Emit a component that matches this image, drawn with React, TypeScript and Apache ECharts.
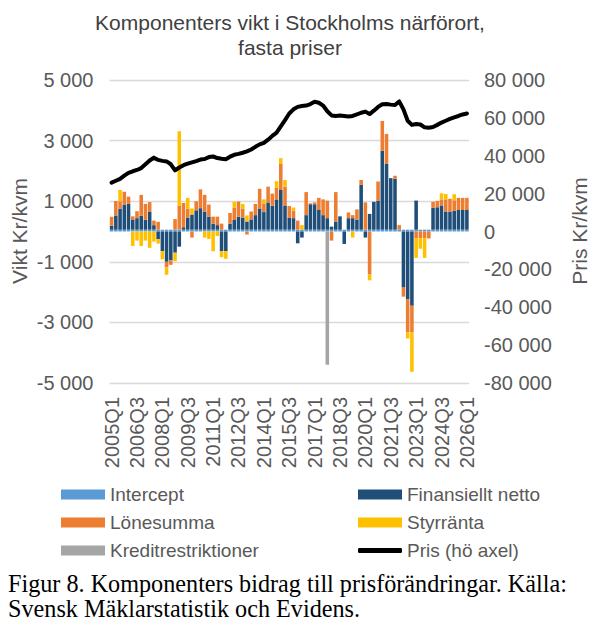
import React, { useEffect, useRef } from "react";
import * as echarts from "echarts";

// Quarter labels 2005Q1 .. 2026Q1
const categories: string[] = (() => {
  const out: string[] = [];
  for (let y = 2005; y <= 2026; y++) {
    for (let q = 1; q <= 4; q++) {
      if (y === 2026 && q > 1) break;
      out.push(`${y}Q${q}`);
    }
  }
  return out;
})();

const intercept = [
  60, 60, 60, 60, 60, 60, 60, 60, 60, 60, 60, 60, 60, 60, 60, 60, 60,
  60, 60, 60, 60, 60, 60, 60, 60, 60, 60, 60, 60, 60, 60, 60, 60, 60,
  60, 60, 60, 60, 60, 60, 60, 60, 60, 60, 60, 60, 60, 60, 60, 60, 60,
  60, 60, 60, 60, 60, 60, 60, 60, 60, 60, 60, 60, 60, 60, 60, 60, 60,
  60, 60, 60, 60, 60, 60, 60, 60, 60, 60, 60, 60, 60, 60, 60, 60, 60,
];

const finansiellt = [
  130, 470, 690, 830, 850, 320, 380, 460, 330, 600, 150, -250, -650, -1000, -950, -700,
  -500, 80, 400, 500, 640, 710, 600, 430, 200, 150, -650, -650, 200, 320, 430, 400,
  270, 340, 480, 700, 580, 900, 790, 980, 1310, 800, 400, 380, -390, -200, 480, 840,
  840, 650, 480, 380, 100, 270, 440, -410, 380, 380, 330, 1480, -200, 520, 920, 960,
  2610, 2170, 1700, 1680, 0, -1850, -2230, -2450, 960, 0, 0, 0, 720, 740, 800, 600,
  600, 620, 650, 650, 650,
];

const lonesumma = [
  300, 480, 250, 420, 240, 120, 230, 690, 520, 310, 150, 260, 0, -180, -150, 350,
  800, 800, 300, -200, 300, 620, 550, 400, 230, 280, 200, 0, 350, 400, 500, 300,
  -100, 260, 370, 650, 270, 520, 400, 400, 860, 620, 380, 250, 300, 0, 760, 30,
  60, 400, 520, 580, -300, 970, 0, 0, 190, 100, 340, 160, 900, -1420, 0, 630,
  980, 990, 0, 100, 150, -300, -1100, -880, -220, -220, -220, -230, 200, 210, 200, 400,
  420, 350, 400, 400, 400,
];

const styrranta = [
  0, 0, 370, 0, 0, -480, -300, -480, -300, -540, -330, -150, -270, -250, 0, -280,
  2450, 0, 350, 200, 0, 0, -200, -250, -650, -150, -200, -250, 0, 200, 0, 150,
  200, 0, 0, 0, 150, 0, 0, 220, 190, 220, 0, 100, 0, 150, 0, 0,
  0, 0, 0, 0, 0, 0, 0, 0, 0, -200, 0, 0, 0, -190, 0, 0,
  0, 0, 0, 0, 0, 0, -200, -1300, -650, -350, -650, 0, 0, 0, 200, 180,
  0, 200, 0, 0, 0,
];

const kredit = [
  0, 0, 0, 0, 0, 0, 0, 0, 0, 0, 0, 0, 0, 0, 0, 0,
  0, 0, 0, 0, 0, 0, 0, 0, 0, 0, 0, 0, 0, 0, 0, 0,
  0, 0, 0, 0, 0, 0, 0, 0, 0, 0, 0, 0, 0, 0, 0, 0,
  0, 0, 0, -4400, 0, 0, 0, 0, 0, 0, 0, 0, 0, 0, 0, 0,
  0, 0, 0, 0, 0, 0, 0, 0, 0, 0, 0, 0, 0, 0, 0, 0,
  0, 0, 0, 0, 0,
];

const pris = [
  25800, 26800, 27800, 29500, 31000, 31800, 32500, 33500, 35500, 37500, 39000, 37800, 37300, 37000, 35500, 32300,
  33800, 35000, 35800, 36500, 37200, 38000, 38300, 39300, 39600, 38800, 38400, 38200, 39500, 40500, 41000, 41600,
  42300, 43300, 44700, 46000, 46800, 48500, 50500, 52200, 55500, 58800, 62300, 64500, 65800, 66300, 66500, 67300,
  68500, 68000, 66500, 63500, 61300, 61000, 61200, 61000, 60700, 61000, 61800, 62700, 63300, 62000, 63800, 65800,
  67200, 67300, 67000, 66800, 68700, 64500, 58500, 56300, 56800, 56500, 55000, 54800, 55200, 56300, 57500, 58500,
  59500, 60300, 61000, 61800, 62300,
];

const leftTicks = { min: -5000, max: 5000, interval: 2000 };
const rightTicks = { min: -80000, max: 80000, interval: 20000 };

const fmt = (v: number) => {
  const s = String(Math.abs(v)).replace(/\B(?=(\d{3})+(?!\d))/g, " ");
  return v < 0 ? "-" + s : s;
};

const SANS = "'Liberation Sans', Arial, sans-serif";
const SERIF = "'Liberation Serif', 'Times New Roman', serif";
const TXT = "#595959";

export default function App() {
  const ref = useRef<HTMLDivElement>(null);
  useEffect(() => {
    if (!ref.current) return;
    const chart = echarts.init(ref.current, undefined, { renderer: "svg" });
    const barBase = {
      type: "bar",
      stack: "total",
      barCategoryGap: "16%",
      yAxisIndex: 0,
    };
    const legendItem = (name: string, left: number, top: number, extra: any = {}) => ({
      data: [name],
      left,
      top,
      padding: 0,
      itemWidth: 44,
      itemHeight: 10,
      icon: "rect",
      textStyle: { fontFamily: SANS, fontSize: 19, color: TXT },
      ...extra,
    });
    chart.setOption({
      animation: false,
      textStyle: { fontFamily: SANS },
      grid: { left: 109.5, right: 131, top: 80, bottom: 248, containLabel: false },
      legend: [
        legendItem("Intercept", 61, 485),
        legendItem("Finansiellt netto", 358, 485),
        legendItem("Lönesumma", 61, 513),
        legendItem("Styrränta", 358, 513),
        legendItem("Kreditrestriktioner", 61, 541),
        legendItem("Pris (hö axel)", 358, 541, { icon: "roundRect", itemHeight: 5 }),
      ],
      xAxis: {
        type: "category",
        data: categories,
        position: "bottom",
        axisLine: { show: false, onZero: false },
        axisTick: { show: false },
        axisLabel: {
          interval: 5,
          rotate: 90,
          margin: 14,
          fontSize: 20,
          color: TXT,
          fontFamily: SANS,
        },
      },
      yAxis: [
        {
          type: "value",
          ...leftTicks,
          axisLine: { show: false },
          axisTick: { show: false },
          splitLine: { show: true, lineStyle: { color: "#D9D9D9", width: 1.3 } },
          axisLabel: { formatter: fmt, fontSize: 20, color: TXT, margin: 16, fontFamily: SANS },
        },
        {
          type: "value",
          ...rightTicks,
          axisLine: { show: false },
          axisTick: { show: false },
          splitLine: { show: false },
          axisLabel: { formatter: fmt, fontSize: 20, color: TXT, margin: 15, fontFamily: SANS },
        },
      ],
      series: [
        { ...barBase, name: "Intercept", data: intercept, itemStyle: { color: "#5B9BD5" } },
        { ...barBase, name: "Finansiellt netto", data: finansiellt, itemStyle: { color: "#1F4E79" } },
        { ...barBase, name: "Lönesumma", data: lonesumma, itemStyle: { color: "#ED7D31" } },
        { ...barBase, name: "Styrränta", data: styrranta, itemStyle: { color: "#FFC000" } },
        { ...barBase, name: "Kreditrestriktioner", data: kredit, itemStyle: { color: "#A5A5A5" } },
        {
          type: "line",
          name: "Pris (hö axel)",
          yAxisIndex: 1,
          data: pris,
          showSymbol: false,
          symbol: "none",
          z: 10,
          itemStyle: { color: "#000000" },
          lineStyle: { color: "#000000", width: 4, cap: "round", join: "round" },
        },
      ],
      graphic: [
        {
          type: "text",
          x: 290,
          y: 22,
          style: {
            text: "Komponenters vikt i Stockholms närförort,",
            fontFamily: SANS,
            fontSize: 21,
            fill: "#404040",
            align: "center",
            verticalAlign: "middle",
          },
        },
        {
          type: "text",
          x: 290,
          y: 47,
          style: {
            text: "fasta priser",
            fontFamily: SANS,
            fontSize: 21,
            fill: "#404040",
            align: "center",
            verticalAlign: "middle",
          },
        },
        {
          type: "text",
          x: 19,
          y: 231,
          rotation: Math.PI / 2,
          style: {
            text: "Vikt Kr/kvm",
            fontFamily: SANS,
            fontSize: 21,
            fill: TXT,
            align: "center",
            verticalAlign: "middle",
          },
        },
        {
          type: "text",
          x: 579,
          y: 231,
          rotation: Math.PI / 2,
          style: {
            text: "Pris Kr/kvm",
            fontFamily: SANS,
            fontSize: 21,
            fill: TXT,
            align: "center",
            verticalAlign: "middle",
          },
        },
        {
          type: "text",
          x: 8,
          y: 583,
          style: {
            text: "Figur 8. Komponenters bidrag till prisförändringar. Källa:",
            fontFamily: SERIF,
            fontSize: 24.2,
            fill: "#000000",
            align: "left",
            verticalAlign: "middle",
          },
        },
        {
          type: "text",
          x: 8,
          y: 608,
          style: {
            text: "Svensk Mäklarstatistik och Evidens.",
            fontFamily: SERIF,
            fontSize: 24.2,
            fill: "#000000",
            align: "left",
            verticalAlign: "middle",
          },
        },
      ],
    });
    return () => chart.dispose();
  }, []);
  return (
    <div
      ref={ref}
      style={{ position: "fixed", left: 0, top: 0, width: 600, height: 631, background: "#ffffff" }}
    />
  );
}
